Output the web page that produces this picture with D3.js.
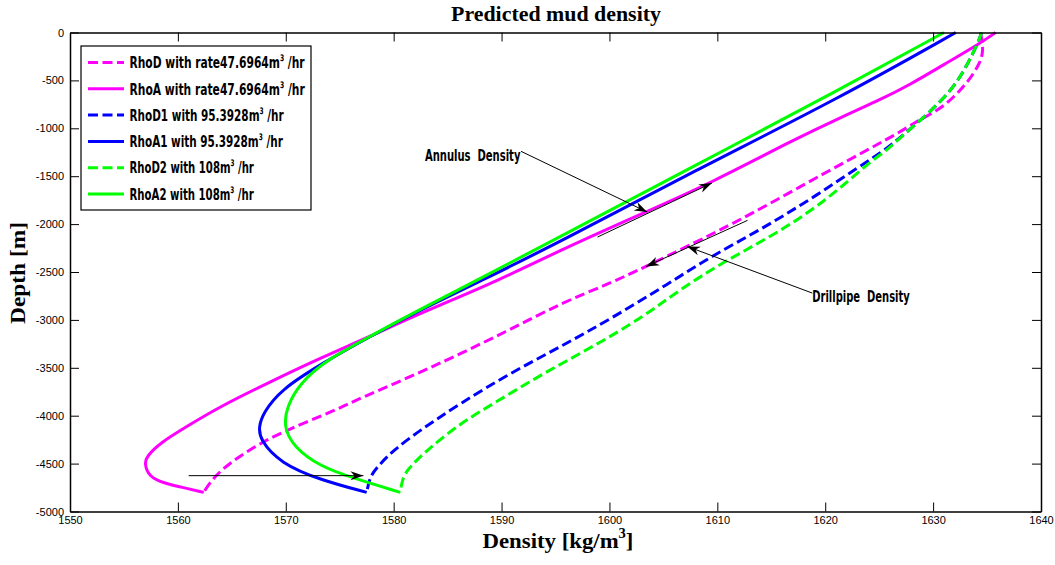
<!DOCTYPE html>
<html>
<head>
<meta charset="utf-8">
<script src="https://cdn.jsdelivr.net/npm/d3@7"></script>
<style>
  body { margin: 0; background: #fff; }
  svg { display: block; }
</style>
</head>
<body>
<div id="chart"></div>
<script>
// tick values
const xTicks = [1550, 1560, 1570, 1580, 1590, 1600, 1610, 1620, 1630, 1640];
const yTicks = [0, -500, -1000, -1500, -2000, -2500, -3000, -3500, -4000, -4500, -5000];

// [density kg/m3, depth m]
const rhoD = [[1634.4, 0], [1634.7, -191], [1634.3, -331], [1633.3, -505], [1631.9, -679], [1630.4, -818],
  [1628.5, -923], [1627.0, -1040], [1620.4, -1437], [1612.8, -1919], [1607.2, -2233], [1603.4, -2442],
  [1600.1, -2616], [1595.5, -2825], [1590.8, -3103], [1583.1, -3521], [1576.9, -3815], [1574.7, -3939],
  [1570.1, -4148], [1567.0, -4323], [1563.9, -4567], [1562.7, -4741], [1562.4, -4800]];
const rhoA = [[1635.8, 0], [1634.1, -133], [1631.0, -334], [1627.9, -543], [1624.8, -718], [1621.4, -888],
  [1617.1, -1118], [1609.4, -1571], [1603.5, -1867], [1595.5, -2268], [1589.9, -2581], [1582.5, -2929],
  [1577.8, -3173], [1573.2, -3399], [1568.6, -3644], [1563.9, -3905], [1560.8, -4114], [1558.3, -4288],
  [1557.1, -4427], [1556.9, -4496], [1557.3, -4636], [1558.7, -4705], [1560.8, -4758], [1562.4, -4800]];
const rhoD1 = [[1634.5, 0], [1634.1, -122], [1633.2, -331], [1631.9, -575], [1630.4, -749], [1629.2, -881],
  [1627.3, -1062], [1625.8, -1205], [1623.3, -1390], [1618.6, -1745], [1614.0, -2058], [1609.4, -2338],
  [1605.5, -2620], [1600.1, -2990], [1595.5, -3278], [1590.8, -3556], [1586.2, -3870], [1582.5, -4148],
  [1580.0, -4357], [1578.5, -4532], [1577.8, -4636], [1577.5, -4800]];
const rhoA1 = [[1632.1, 0], [1621.4, -679], [1607.8, -1449], [1595.5, -2181], [1588.3, -2581], [1582.5, -2894],
  [1577.8, -3173], [1573.4, -3451], [1569.5, -3730], [1567.9, -3974], [1567.5, -4114], [1567.6, -4253],
  [1569.5, -4496], [1573.2, -4671], [1577.5, -4800]];
const rhoD2 = [[1634.5, 0], [1634.1, -122], [1633.2, -331], [1631.9, -575], [1630.4, -749], [1629.2, -881],
  [1627.3, -1062], [1625.8, -1223], [1624.0, -1362], [1620.2, -1745], [1615.6, -2093], [1610.9, -2372],
  [1606.3, -2700], [1603.2, -2965], [1598.5, -3278], [1593.9, -3556], [1589.3, -3870], [1586.2, -4078],
  [1583.1, -4357], [1581.2, -4567], [1580.8, -4671], [1580.6, -4800]];
const rhoA2 = [[1631.0, 0], [1621.4, -592], [1607.8, -1397], [1595.5, -2128], [1587.8, -2581], [1581.8, -2929],
  [1577.8, -3173], [1573.8, -3417], [1571.3, -3660], [1570.1, -3905], [1569.8, -4114], [1570.7, -4323],
  [1573.2, -4532], [1576.3, -4653], [1580.6, -4800]];

const seriesNames = ["RhoD with rate47.6964m", "RhoA with rate47.6964m", "RhoD1 with 95.3928m",
  "RhoA1 with 95.3928m", "RhoD2 with 108m", "RhoA2 with 108m"];

// annotation arrows [from, to] in data units
const arrows = [
  [[1561.0, -4626], [1577.2, -4626]],
  [[1591.8, -1240], [1603.5, -1874]],
  [[1598.9, -2135], [1609.5, -1571]],
  [[1612.8, -1961], [1603.4, -2442]],
  [[1618.8, -2720], [1607.2, -2233]]
];
const notes = [
  {text: "Annulus  Density", at: [1582.9, -1285]},
  {text: "Drillpipe  Density", at: [1618.8, -2748]}
];

const width = 1055, height = 565;
const colors = ["#ff00ff", "#ff00ff", "#0000ff", "#0000ff", "#00ff00", "#00ff00"];
const dashed = [true, false, true, false, true, false];
const data = [rhoD, rhoA, rhoD1, rhoA1, rhoD2, rhoA2];

const x = d3.scaleLinear().domain([1550, 1640]).range([70, 1041]);
const y = d3.scaleLinear().domain([0, -5000]).range([32.5, 511.5]);

const svg = d3.select("#chart").append("svg")
  .attr("width", width)
  .attr("height", height)
  .style("font-family", "'Liberation Sans', Arial, sans-serif");

svg.append("defs").append("marker")
  .attr("id", "head")
  .attr("viewBox", "0 -5 13 10")
  .attr("refX", 13)
  .attr("refY", 0)
  .attr("markerWidth", 13)
  .attr("markerHeight", 10)
  .attr("markerUnits", "userSpaceOnUse")
  .attr("orient", "auto")
  .append("path")
  .attr("d", "M0,-4.5L13,0L0,4.5L4,0Z")
  .attr("fill", "#000");

// squeeze or stretch a text so it spans w pixels
function fit(sel, w) {
  sel.each(function () {
    const b = this.getBBox();
    d3.select(this).attr("transform", `scale(${w / b.width},1)`);
  });
}

// curves
const line = d3.line()
  .x(d => x(d[0]))
  .y(d => y(d[1]))
  .curve(d3.curveBasis);

svg.append("g")
  .selectAll("path")
  .data(data)
  .join("path")
  .attr("d", line)
  .attr("fill", "none")
  .attr("stroke", (d, i) => colors[i])
  .attr("stroke-width", 3)
  .attr("stroke-dasharray", (d, i) => dashed[i] ? "10,4.5" : null);

// axes, ticks pointing inward
const tick = 9;
const fmt = d => String(d);
svg.append("g")
  .attr("transform", `translate(0,${y(-5000)})`)
  .call(d3.axisBottom(x).tickValues(xTicks).tickSize(-tick).tickSizeOuter(0).tickPadding(5).tickFormat(fmt));
svg.append("g")
  .attr("transform", `translate(0,${y(0)})`)
  .call(d3.axisTop(x).tickValues(xTicks).tickSize(-tick).tickSizeOuter(0).tickFormat(""));
svg.append("g")
  .attr("transform", `translate(${x(1550)},0)`)
  .call(d3.axisLeft(y).tickValues(yTicks).tickSize(-tick).tickSizeOuter(0).tickPadding(6).tickFormat(fmt));
svg.append("g")
  .attr("transform", `translate(${x(1640)},0)`)
  .call(d3.axisRight(y).tickValues(yTicks).tickSize(-tick).tickSizeOuter(0).tickFormat(""));

svg.selectAll(".domain").attr("stroke", "#000").attr("stroke-width", 1.5);
svg.selectAll(".tick line").attr("stroke", "#000").attr("stroke-width", 1);
svg.selectAll(".tick text")
  .attr("fill", "#000")
  .style("font-family", "'Liberation Sans', Arial, sans-serif")
  .style("font-size", "11px");

// annotations
svg.append("g")
  .selectAll("line")
  .data(arrows)
  .join("line")
  .attr("x1", d => x(d[0][0]))
  .attr("y1", d => y(d[0][1]))
  .attr("x2", d => x(d[1][0]))
  .attr("y2", d => y(d[1][1]))
  .attr("stroke", "#000")
  .attr("stroke-width", 1)
  .attr("marker-end", "url(#head)");

const noteWidths = [96, 98];
svg.append("g")
  .selectAll("g")
  .data(notes)
  .join("g")
  .attr("transform", d => `translate(${x(d.at[0])},${y(d.at[1])})`)
  .append("text")
  .attr("dy", "0.36em")
  .style("font-family", "'Liberation Sans Narrow', 'DejaVu Sans Condensed', sans-serif")
  .style("font-weight", "bold")
  .style("font-size", "16px")
  .style("white-space", "pre")
  .text(d => d.text)
  .each(function (d, i) { fit(d3.select(this), noteWidths[i]); });

// legend
const lg = svg.append("g");
lg.append("rect")
  .attr("x", 81).attr("y", 46)
  .attr("width", 230).attr("height", 164)
  .attr("fill", "#fff")
  .attr("stroke", "#000")
  .attr("stroke-width", 1.2);

const legendWidths = [176, 176, 155, 154, 125, 125];
const rows = lg.selectAll("g.row")
  .data(seriesNames)
  .join("g")
  .attr("class", "row")
  .attr("transform", (d, i) => `translate(0,${62.5 + i * 26.3})`);

rows.append("line")
  .attr("x1", 88).attr("x2", 124)
  .attr("stroke", (d, i) => colors[i])
  .attr("stroke-width", 3)
  .attr("stroke-dasharray", (d, i) => dashed[i] ? "10,4.5" : null);

rows.append("g")
  .attr("transform", "translate(129.5,0)")
  .append("text")
  .attr("dy", "0.36em")
  .style("font-family", "'Liberation Sans Narrow', 'DejaVu Sans Condensed', sans-serif")
  .style("font-weight", "bold")
  .style("font-size", "16px")
  .each(function (d, i) {
    const t = d3.select(this);
    t.append("tspan").text(d);
    t.append("tspan").attr("dy", -7).style("font-size", "9px").text("3");
    t.append("tspan").attr("dy", 7).text(" /hr");
    fit(t, legendWidths[i]);
  });

// title and axis labels
const serif = "'Liberation Serif', 'Times New Roman', serif";
svg.append("g")
  .attr("transform", "translate(556,20.5)")
  .append("text")
  .attr("text-anchor", "middle")
  .style("font-family", serif)
  .style("font-weight", "bold")
  .style("font-size", "20px")
  .text("Predicted mud density")
  .call(fit, 210);

const xl = svg.append("g")
  .attr("transform", "translate(558,548)")
  .append("text")
  .attr("text-anchor", "middle")
  .style("font-family", serif)
  .style("font-weight", "bold")
  .style("font-size", "22px");
xl.append("tspan").text("Density [kg/m");
xl.append("tspan").attr("dy", -10).style("font-size", "14px").text("3");
xl.append("tspan").attr("dy", 10).text("]");
xl.call(fit, 151);

svg.append("g")
  .attr("transform", "translate(25,273) rotate(-90)")
  .append("text")
  .attr("text-anchor", "middle")
  .style("font-family", serif)
  .style("font-weight", "bold")
  .style("font-size", "22px")
  .text("Depth [m]")
  .call(fit, 102);
</script>
</body>
</html>
